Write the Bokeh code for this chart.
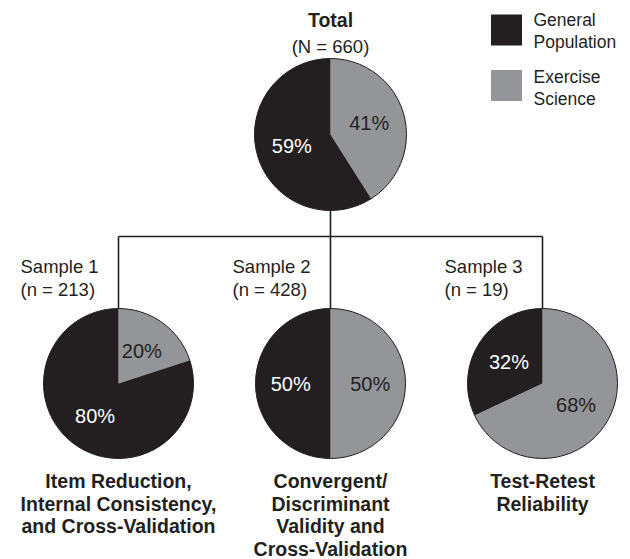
import math
from bokeh.plotting import figure
from bokeh.models import Range1d
from bokeh.embed import file_html
from bokeh.resources import INLINE
from bokeh.core.properties import value

# ---------------- data ----------------
groups = ["Total", "Sample 1", "Sample 2", "Sample 3"]
n_labels = ["(N = 660)", "(n = 213)", "(n = 428)", "(n = 19)"]
general_pct = [59, 80, 50, 32]
exercise_pct = [41, 20, 50, 68]
purposes = [
    [],
    ["Item Reduction,", "Internal Consistency,", "and Cross-Validation"],
    ["Convergent/", "Discriminant", "Validity and", "Cross-Validation"],
    ["Test-Retest", "Reliability"],
]
legend_labels = [["General", "Population"], ["Exercise", "Science"]]

# ---------------- layout / style ----------------
DARK = "#231f20"
GREY = "#939598"
FONT = value("Liberation Sans")
W, H = 630, 559  # data y = H - picture y

cx = [330, 118, 330, 542]
cy_page = [134, 383, 383, 383]
radius = [76, 75, 75, 75]


def Y(v):
    return H - v


p = figure(width=W, height=H, x_range=Range1d(0, W), y_range=Range1d(0, H),
           output_backend="svg", toolbar_location=None, min_border=0,
           x_axis_location=None, y_axis_location=None)
p.grid.visible = False
p.outline_line_color = None
p.background_fill_color = "white"
p.border_fill_color = "white"


def label(x, y, s, size, align="center", bold=False, color=DARK):
    p.text(x=[x], y=[Y(y)], text=[s], text_align=align, text_baseline="middle",
           text_font=FONT, text_font_style="bold" if bold else "normal",
           text_font_size=value(size), text_color=color)


# connectors
top_bottom = cy_page[0] + radius[0]
bar_y = 236
p.segment(x0=[cx[0]], y0=[Y(top_bottom)], x1=[cx[0]], y1=[Y(bar_y)], line_color=DARK, line_width=1.6)
p.segment(x0=[cx[1]], y0=[Y(bar_y)], x1=[cx[3]], y1=[Y(bar_y)], line_color=DARK, line_width=1.6)
for i in range(1, 4):
    p.segment(x0=[cx[i]], y0=[Y(bar_y)], x1=[cx[i]], y1=[Y(cy_page[i] - radius[i])],
              line_color=DARK, line_width=1.6)

# pies
for i in range(4):
    ex = exercise_pct[i] / 100.0
    ge = general_pct[i] / 100.0
    x, y, r = cx[i], Y(cy_page[i]), radius[i]
    g_start = math.pi / 2 - 2 * math.pi * ex
    g_end = math.pi / 2
    p.wedge(x=[x], y=[y], radius=r, start_angle=g_start, end_angle=g_end,
            direction="anticlock", fill_color=GREY, line_color=None)
    p.wedge(x=[x], y=[y], radius=r, start_angle=g_end, end_angle=g_start,
            direction="anticlock", fill_color=DARK, line_color=None)
    p.circle(x=[x], y=[y], radius=r, fill_color=None, line_color=DARK, line_width=1)
    # percent labels
    gm = math.pi / 2 - math.pi * ex
    bm = g_start - math.pi * ge
    lr = 0.53 * r
    p.text(x=[x + lr * math.cos(gm)], y=[y + lr * math.sin(gm)], text=[f"{exercise_pct[i]}%"],
           text_align="center", text_baseline="middle", text_font=FONT,
           text_font_size=value("20px"), text_color=DARK)
    p.text(x=[x + lr * math.cos(bm)], y=[y + lr * math.sin(bm)], text=[f"{general_pct[i]}%"],
           text_align="center", text_baseline="middle", text_font=FONT,
           text_font_size=value("20px"), text_color="white")

# group titles
label(cx[0], 19, groups[0], "19.5px", bold=True)
label(cx[0], 46, n_labels[0], "18.5px")
for i in range(1, 4):
    label(cx[i] - 98, 265.5, groups[i], "18.5px", align="left")
    label(cx[i] - 98, 288.5, n_labels[i], "18.5px", align="left")
    for k, line in enumerate(purposes[i]):
        label(cx[i], 480.5 + 22.5 * k, line, "19.5px", bold=True)

# legend
sq_cy = [29.5, 85]
sq_col = [DARK, GREY]
txt_mid = [[19, 41], [76, 98]]
for j in range(2):
    p.rect(x=[506], y=[Y(sq_cy[j])], width=31, height=31, fill_color=sq_col[j], line_color=None)
    for k, line in enumerate(legend_labels[j]):
        label(533, txt_mid[j][k], line, "17.5px", align="left")

open("out.html", "w").write(file_html(p, INLINE))
